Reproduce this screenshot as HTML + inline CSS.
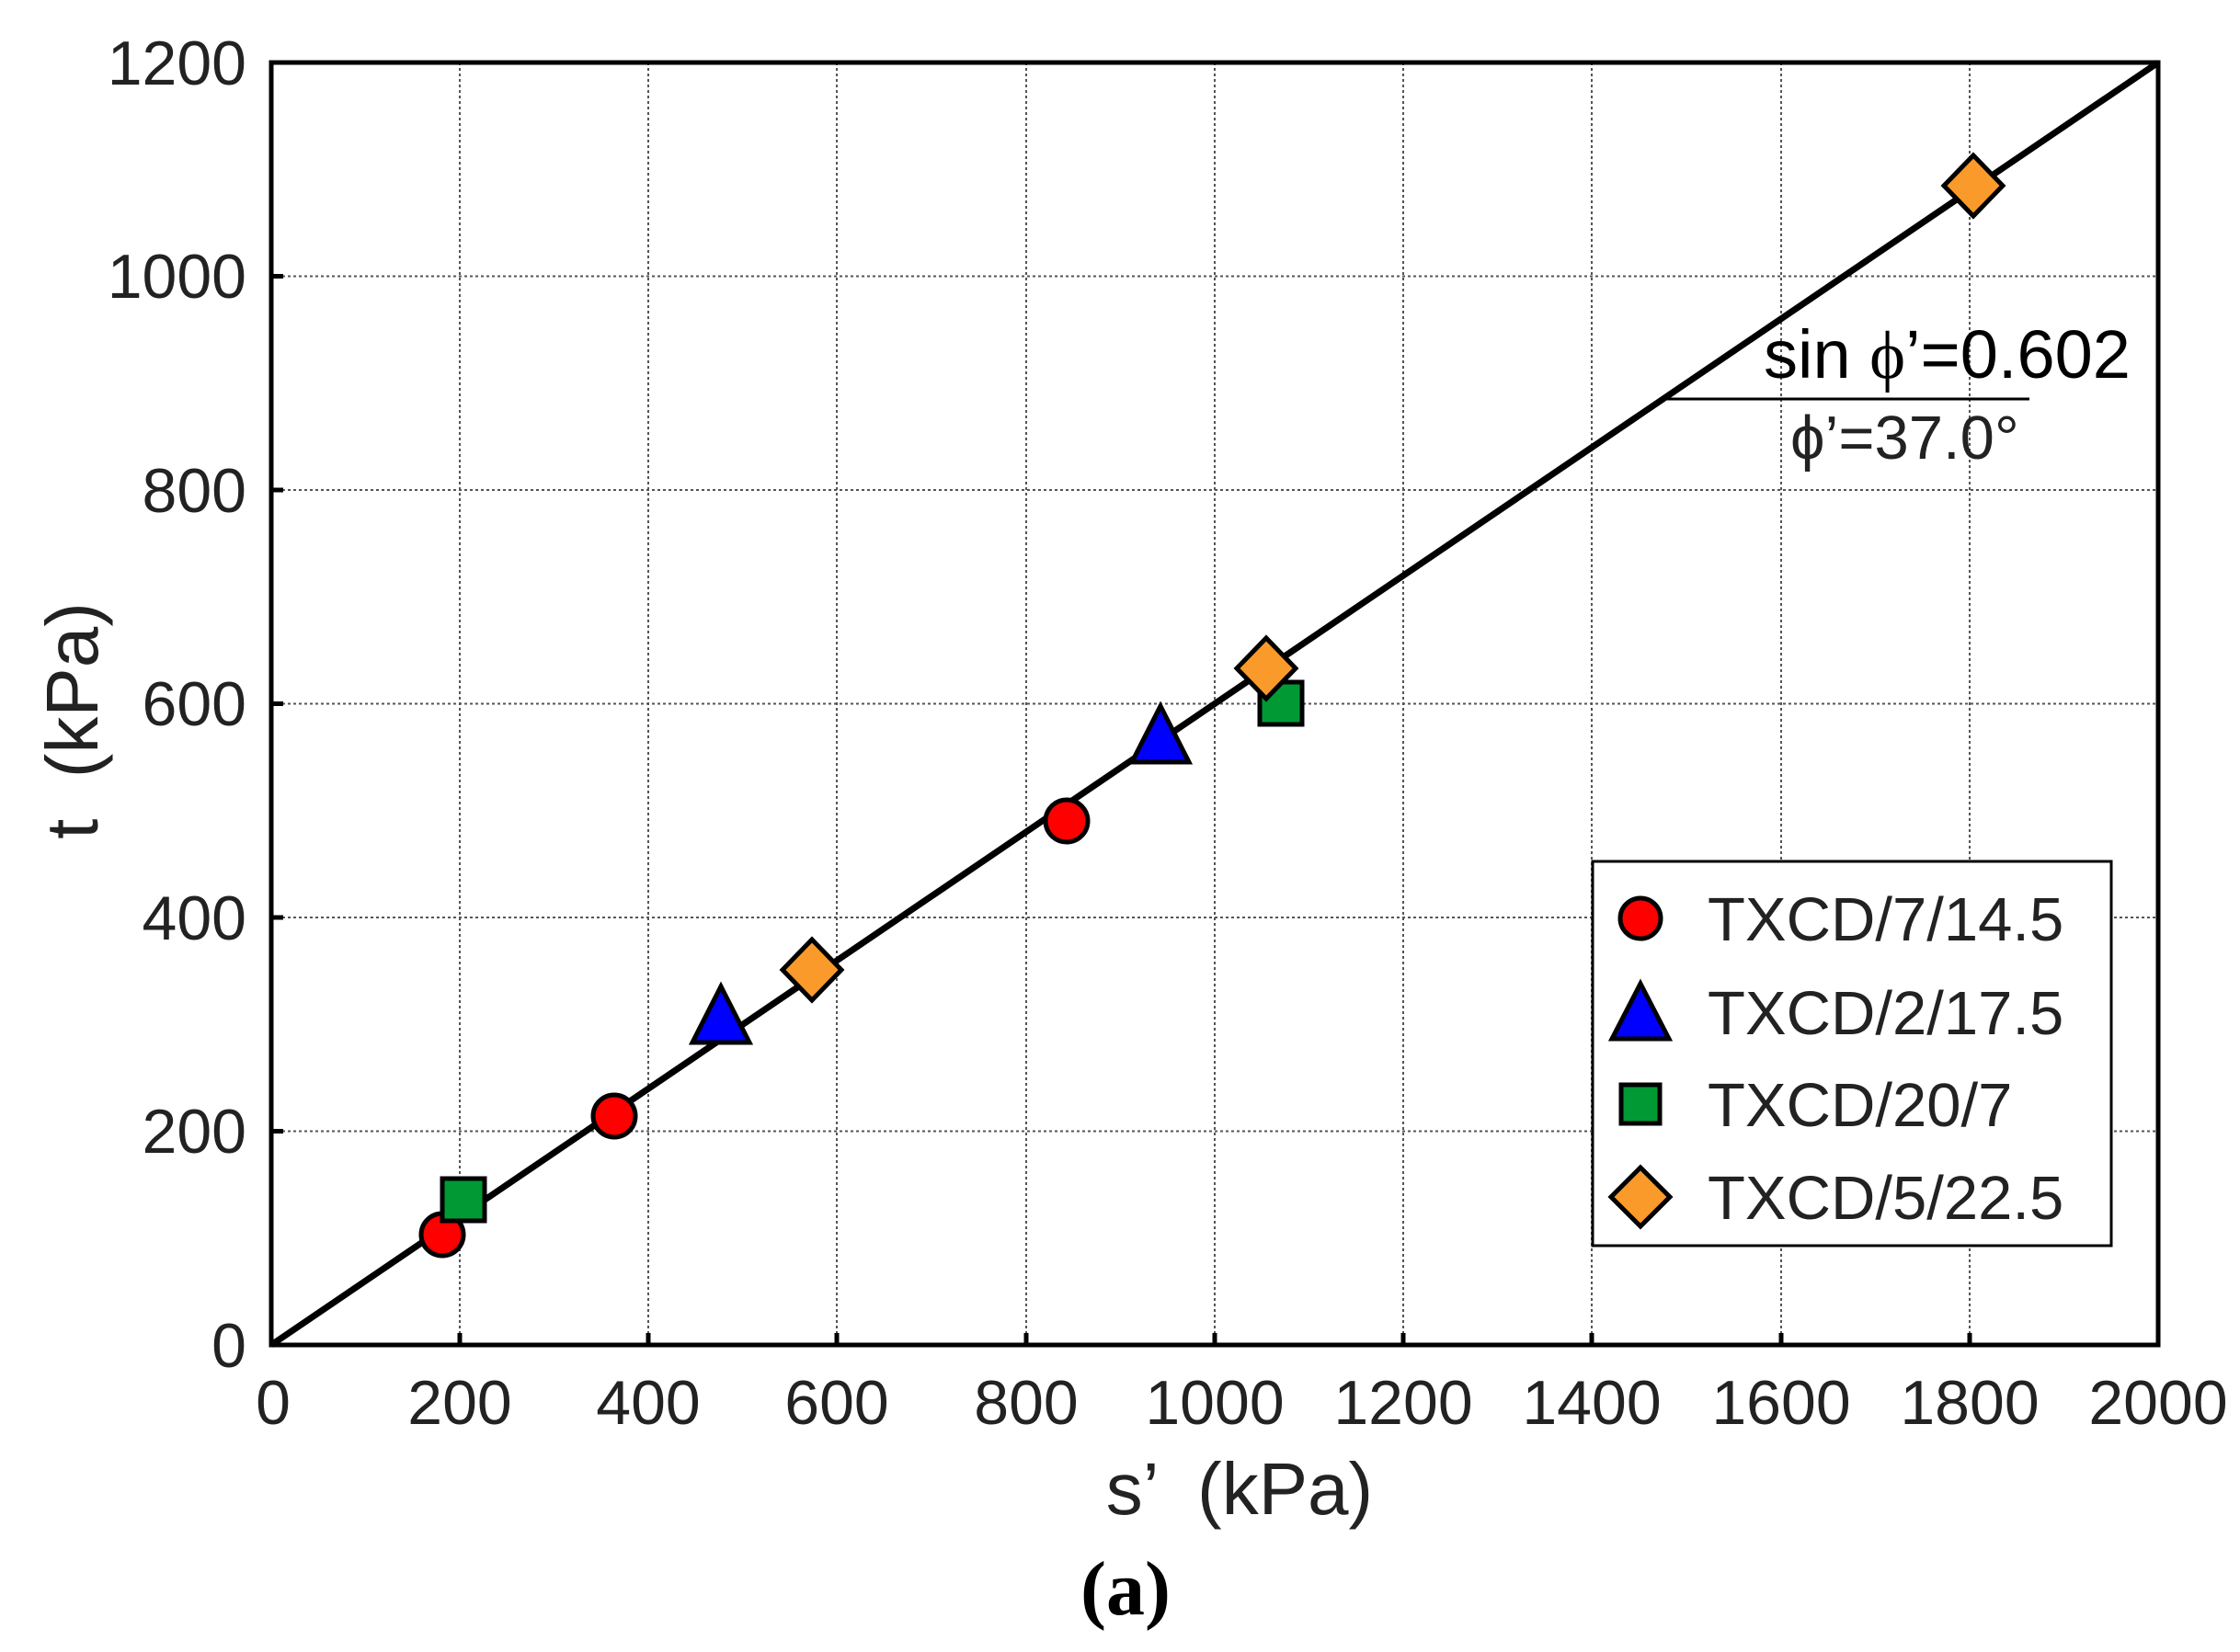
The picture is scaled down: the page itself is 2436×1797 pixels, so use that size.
<!DOCTYPE html>
<html><head><meta charset="utf-8"><style>html,body{margin:0;padding:0;background:#fff;}svg{display:block}</style></head>
<body>
<svg width="2436" height="1797" viewBox="0 0 2436 1797" xmlns="http://www.w3.org/2000/svg" font-family="Liberation Sans, Arial, sans-serif" fill="#222">
<g stroke="#555" stroke-width="2" stroke-dasharray="3,3">
<line x1="500" y1="68" x2="500" y2="1463"/><line x1="705" y1="68" x2="705" y2="1463"/><line x1="910" y1="68" x2="910" y2="1463"/><line x1="1116" y1="68" x2="1116" y2="1463"/><line x1="1321" y1="68" x2="1321" y2="1463"/><line x1="1526" y1="68" x2="1526" y2="1463"/><line x1="1731" y1="68" x2="1731" y2="1463"/><line x1="1937" y1="68" x2="1937" y2="1463"/><line x1="2142" y1="68" x2="2142" y2="1463"/>
<line x1="295" y1="1230.5" x2="2347" y2="1230.5"/><line x1="295" y1="998" x2="2347" y2="998"/><line x1="295" y1="765.5" x2="2347" y2="765.5"/><line x1="295" y1="533" x2="2347" y2="533"/><line x1="295" y1="300.5" x2="2347" y2="300.5"/>
</g>
<g stroke="#000" stroke-width="5">
<line x1="500" y1="1463" x2="500" y2="1450"/><line x1="705" y1="1463" x2="705" y2="1450"/><line x1="910" y1="1463" x2="910" y2="1450"/><line x1="1116" y1="1463" x2="1116" y2="1450"/><line x1="1321" y1="1463" x2="1321" y2="1450"/><line x1="1526" y1="1463" x2="1526" y2="1450"/><line x1="1731" y1="1463" x2="1731" y2="1450"/><line x1="1937" y1="1463" x2="1937" y2="1450"/><line x1="2142" y1="1463" x2="2142" y2="1450"/>
<line x1="295" y1="1230.5" x2="308" y2="1230.5"/><line x1="295" y1="998" x2="308" y2="998"/><line x1="295" y1="765.5" x2="308" y2="765.5"/><line x1="295" y1="533" x2="308" y2="533"/><line x1="295" y1="300.5" x2="308" y2="300.5"/>
</g>
<rect x="295" y="68" width="2052" height="1395" fill="none" stroke="#000" stroke-width="5"/>
<g font-size="68" text-anchor="end">
<text x="268" y="1487">0</text><text x="268" y="1254">200</text><text x="268" y="1022">400</text><text x="268" y="789">600</text><text x="268" y="557">800</text><text x="268" y="324">1000</text><text x="268" y="92">1200</text>
</g>
<g font-size="68" text-anchor="middle">
<text x="297" y="1549">0</text><text x="500" y="1549">200</text><text x="705" y="1549">400</text><text x="910" y="1549">600</text><text x="1116" y="1549">800</text><text x="1321" y="1549">1000</text><text x="1526" y="1549">1200</text><text x="1731" y="1549">1400</text><text x="1937" y="1549">1600</text><text x="2142" y="1549">1800</text><text x="2347" y="1549">2000</text>
</g>
<text x="1348" y="1647" font-size="80" text-anchor="middle" xml:space="preserve">s’  (kPa)</text>
<text transform="translate(106,784) rotate(-90)" font-size="80" text-anchor="middle" xml:space="preserve">t  (kPa)</text>
<text x="1224" y="1756" font-size="84" font-weight="bold" font-family="Liberation Serif, serif" text-anchor="middle" fill="#000">(a)</text>
<line x1="295" y1="1463" x2="2347" y2="68" stroke="#000" stroke-width="7"/>
<line x1="1813" y1="434" x2="2207" y2="434" stroke="#000" stroke-width="3"/>
<text x="1918" y="411" font-size="74" fill="#000">sin <tspan font-family="Liberation Serif, serif">ϕ</tspan>’=0.602</text>
<text x="1947" y="499" font-size="67">ϕ’=37.0°</text>
<g stroke="#000" stroke-width="5">
<circle cx="481" cy="1343" r="23" fill="#f00"/><circle cx="668" cy="1214" r="23" fill="#f00"/><circle cx="1160" cy="893" r="23" fill="#f00"/>
<polygon points="784,1073 815,1134 753,1134" fill="#00f"/><polygon points="1262,768 1293,829 1231,829" fill="#00f"/>
<rect x="481" y="1282" width="46" height="46" fill="#093"/><rect x="1370" y="742" width="46" height="46" fill="#093"/>
<polygon points="883,1022 915,1055 883,1088 851,1055" fill="#f99a2a"/><polygon points="1377,694 1409,727 1377,760 1345,727" fill="#f99a2a"/><polygon points="2146,169 2178,202 2146,235 2114,202" fill="#f99a2a"/>
</g>
<rect x="1732" y="937" width="564" height="418" fill="#fff" stroke="#000" stroke-width="3"/>
<g stroke="#000" stroke-width="5">
<circle cx="1784" cy="999" r="22" fill="#f00"/>
<polygon points="1784,1070 1815,1130 1753,1130" fill="#00f"/>
<rect x="1763" y="1180" width="42" height="42" fill="#093"/>
<polygon points="1784,1270 1816,1302 1784,1334 1752,1302" fill="#f99a2a"/>
</g>
<g font-size="67">
<text x="1857" y="1023">TXCD/7/14.5</text><text x="1857" y="1125">TXCD/2/17.5</text><text x="1857" y="1225">TXCD/20/7</text><text x="1857" y="1326">TXCD/5/22.5</text>
</g>
</svg>
</body></html>
